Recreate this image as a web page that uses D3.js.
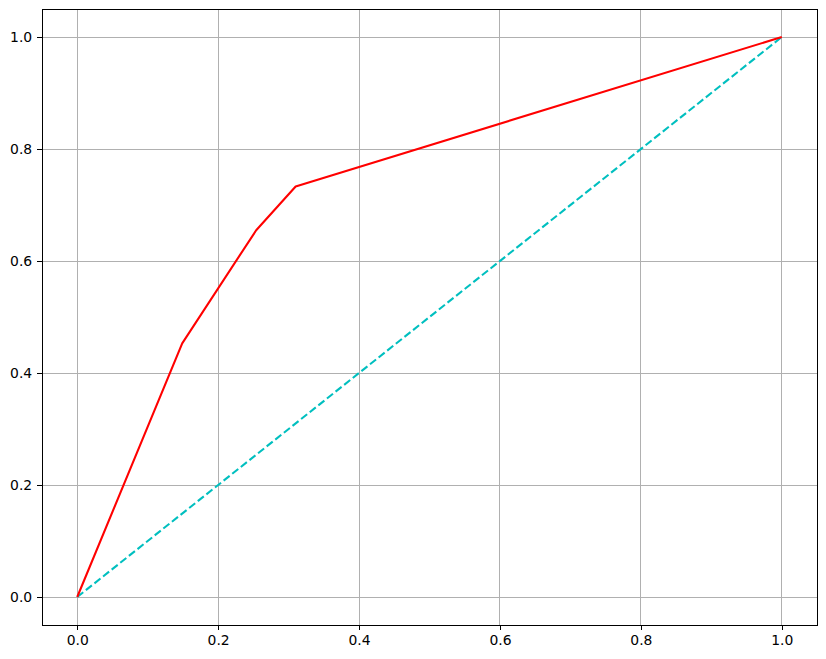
<!DOCTYPE html>
<html>
<head>
<meta charset="utf-8">
<script src="https://cdn.jsdelivr.net/npm/d3@7"></script>
<style>
  body { margin: 0; background: #fff; }
  svg { display: block; }
  .tick text { font-family: "DejaVu Sans", sans-serif; font-size: 13.9px; fill: #000; }
</style>
</head>
<body>
<div id="chart"></div>
<script>
// ROC curve points (false positive rate, true positive rate)
let fpr = [0, 0.149, 0.254, 0.310, 1];
let tpr = [0, 0.453, 0.655, 0.733, 1];
// diagonal reference
let diagX = [0, 1];
let diagY = [0, 1];
let ticks = [0, 0.2, 0.4, 0.6, 0.8, 1.0];

let width = 826, height = 659;
let margin = {top: 9, right: 9, bottom: 34, left: 42};
let w = width - margin.left - margin.right;
let h = height - margin.top - margin.bottom;

let svg = d3.select("#chart")
  .append("svg")
  .attr("width", width)
  .attr("height", height)
  .append("g")
  .attr("transform", "translate(" + margin.left + "," + margin.top + ")");

let x = d3.scaleLinear().domain([-0.05, 1.05]).range([0, w]);
let y = d3.scaleLinear().domain([-0.05, 1.05]).range([h, 0]);

// grid
svg.append("g")
  .selectAll("line")
  .data(ticks)
  .enter().append("line")
    .attr("x1", d => x(d)).attr("x2", d => x(d))
    .attr("y1", 0).attr("y2", h)
    .style("stroke", "#b0b0b0").style("stroke-width", 1)
    .style("shape-rendering", "crispEdges");
svg.append("g")
  .selectAll("line")
  .data(ticks)
  .enter().append("line")
    .attr("y1", d => y(d)).attr("y2", d => y(d))
    .attr("x1", 0).attr("x2", w)
    .style("stroke", "#b0b0b0").style("stroke-width", 1)
    .style("shape-rendering", "crispEdges");

// axes
let xAxis = svg.append("g")
  .attr("transform", "translate(0," + h + ")")
  .call(d3.axisBottom(x).tickValues(ticks).tickFormat(d3.format(".1f")).tickSize(4.9).tickPadding(4.9));
let yAxis = svg.append("g")
  .call(d3.axisLeft(y).tickValues(ticks).tickFormat(d3.format(".1f")).tickSize(4.9).tickPadding(4.9));
[xAxis, yAxis].forEach(a => {
  a.select(".domain").remove();
  a.selectAll(".tick line").style("stroke", "#000").style("stroke-width", 1)
    .style("shape-rendering", "crispEdges");
});

let line = d3.line().x(d => x(d[0])).y(d => y(d[1]));

// diagonal
svg.append("path")
  .datum(diagX.map((v, i) => [v, diagY[i]]))
  .attr("d", line)
  .style("fill", "none")
  .style("stroke", "#00bfbf")
  .style("stroke-width", 2.08)
  .style("stroke-dasharray", "7.7,3.3");

// roc curve
svg.append("path")
  .datum(fpr.map((v, i) => [v, tpr[i]]))
  .attr("d", line)
  .style("fill", "none")
  .style("stroke", "#ff0000")
  .style("stroke-width", 2.08)
  .style("stroke-linejoin", "round");

// frame
svg.append("rect")
  .attr("x", 0).attr("y", 0)
  .attr("width", w).attr("height", h)
  .style("fill", "none")
  .style("stroke", "#000")
  .style("stroke-width", 1)
  .style("shape-rendering", "crispEdges");
</script>
</body>
</html>
